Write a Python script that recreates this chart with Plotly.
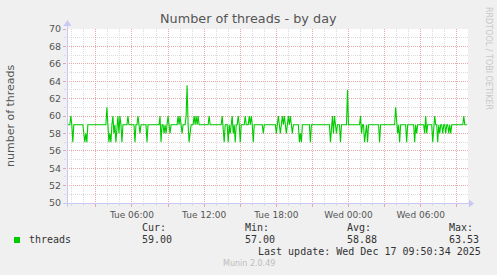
import plotly.graph_objects as go
import pandas as pd

# ---- data (5-minute samples, Tue 00:40 -> Wed 09:50) ----
start_time = "2025-12-16 00:40"
threads = [
    59, 59, 59, 60, 59, 57, 59, 59, 59, 59, 59, 59, 59, 59, 59, 59, 58, 57, 58, 57,
    59, 59, 59, 59, 59, 59, 59, 59, 59, 59, 59, 59, 59, 59, 59, 59, 59, 59, 59, 61,
    59, 57, 58, 57, 59, 60, 58, 59, 57, 59, 60, 58, 60, 59, 57, 59, 59, 59, 59, 59,
    60, 59, 59, 59, 59, 59, 59, 57, 59, 59, 60, 59, 58, 59, 59, 59, 59, 59, 59, 57,
    59, 59, 59, 59, 59, 59, 59, 59, 59, 59, 59, 59, 60, 57, 59, 59, 58, 59, 58, 59,
    60, 59, 58, 59, 59, 59, 59, 59, 59, 59, 60, 59, 60, 59, 58, 59, 59, 59, 60, 63.53,
    59, 57, 58, 59, 59, 59, 60, 59, 60, 59, 60, 59, 59, 59, 59, 59, 59, 59, 59, 59,
    59, 60, 59, 59, 59, 59, 59, 59, 59, 59, 59, 59, 59, 59, 60, 58, 57, 59, 59, 59,
    57, 59, 58, 59, 60, 58, 59, 57, 59, 59, 60, 59, 57, 59, 59, 59, 59, 60, 59, 59,
    59, 60, 59, 60, 59, 57, 59, 59, 59, 59, 59, 59, 59, 59, 59, 58, 59, 59, 59, 59,
    59, 59, 59, 59, 59, 59, 59, 59, 58, 59, 60, 59, 58, 59, 60, 59, 60, 59, 58, 59,
    60, 59, 60, 59, 58, 59, 59, 59, 59, 59, 59, 57, 58, 57, 59, 59, 59, 59, 59, 59,
    59, 59, 57, 59, 59, 59, 59, 59, 59, 59, 59, 59, 59, 59, 59, 59, 59, 59, 59, 59,
    59, 59, 57, 59, 60, 58, 60, 59, 58, 59, 59, 59, 57, 59, 59, 59, 59, 59, 59, 63,
    59, 59, 59, 59, 59, 59, 59, 59, 59, 59, 59, 59, 60, 58, 59, 59, 57, 58, 59, 57,
    59, 59, 59, 59, 59, 59, 59, 59, 59, 59, 59, 57, 59, 59, 59, 59, 59, 59, 59, 59,
    59, 59, 59, 59, 59, 59, 59, 61, 59, 58, 59, 57, 59, 59, 59, 59, 59, 59, 57, 59,
    59, 59, 59, 59, 59, 59, 57, 59, 58, 59, 59, 59, 59, 59, 59, 59, 58, 60, 58, 59,
    59, 59, 59, 59, 57, 59, 60, 59, 59, 57, 59, 58, 59, 59, 58, 59, 59, 58, 59, 59,
    58, 59, 58, 59, 59, 59, 59, 59, 59, 59, 59, 59, 59, 59, 59, 60, 59, 59, 59,
]
x_range = ["2025-12-16 00:36", "2025-12-17 09:56"]
tick_vals = [
    "2025-12-16 03:00", "2025-12-16 06:00", "2025-12-16 09:00", "2025-12-16 12:00",
    "2025-12-16 15:00", "2025-12-16 18:00", "2025-12-16 21:00", "2025-12-17 00:00",
    "2025-12-17 03:00", "2025-12-17 06:00", "2025-12-17 09:00",
]
tick_text = ["", "Tue 06:00", "", "Tue 12:00", "", "Tue 18:00", "",
             "Wed 00:00", "", "Wed 06:00", ""]
legend_name = "threads"
stat_labels = ["Cur:", "Min:", "Avg:", "Max:"]
stat_values = ["59.00", "57.00", "58.88", "63.53"]
title = "Number of threads - by day"
y_title = "number of threads"
last_update = "Last update: Wed Dec 17 09:50:34 2025"
footer = "Munin 2.0.49"
side_text = "RRDTOOL / TOBI OETIKER"

times = pd.date_range(start_time, periods=len(threads), freq="5min")

W, H = 497, 275
L, R, T, B = 67, 29, 29, 72
PW, PH = W - L - R, H - T - B


def px(x):
    return (x - L) / PW


def py(y):
    return (H - B - y) / PH


GREEN = "#00CC00"
MGRID = "#E6A8A8"
GRID = "#DCDCDC"
AXIS = "#C8C8F4"
TXT = "#555555"
MONO = "DejaVu Sans Mono"
SANS = "DejaVu Sans"

fig = go.Figure()
fig.add_trace(go.Scatter(x=times, y=threads, mode="lines",
                         line=dict(color=GREEN, width=1.1), showlegend=False,
                         hoverinfo="skip"))

fig.update_layout(
    width=W, height=H, autosize=False,
    margin=dict(l=L, r=R, t=T, b=B, pad=0),
    paper_bgcolor="#F0F0F0", plot_bgcolor="#FFFFFF",
    font=dict(family=SANS, color=TXT),
    xaxis=dict(
        range=x_range, type="date", tickmode="array",
        tickvals=tick_vals, ticktext=tick_text,
        showgrid=True, gridcolor=MGRID, griddash="1px,1px", gridwidth=1,
        ticks="outside", ticklen=3, tickcolor=MGRID,
        tickfont=dict(size=9, family=SANS, color=TXT),
        showline=False, zeroline=False,
        minor=dict(dtick=3600000, tick0="2025-12-16 00:00", showgrid=True,
                   gridcolor=GRID, griddash="1px,1px", gridwidth=1,
                   ticks="outside", ticklen=2, tickcolor=GRID),
    ),
    yaxis=dict(
        range=[50, 70], tickmode="linear", tick0=50, dtick=2,
        showgrid=True, gridcolor=MGRID, griddash="1px,1px", gridwidth=1,
        ticks="outside", ticklen=3, tickcolor=MGRID,
        tickfont=dict(size=9.5, family=SANS, color=TXT),
        showline=False, zeroline=False,
        minor=dict(dtick=1, showgrid=True, gridcolor=GRID,
                   griddash="1px,1px", gridwidth=1,
                   ticks="outside", ticklen=2, tickcolor=GRID),
    ),
)

# axis lines with arrows (decoration)
shapes = [
    dict(type="line", xref="paper", yref="paper", x0=px(63), x1=px(470),
         y0=py(203.5), y1=py(203.5), line=dict(color=AXIS, width=1)),
    dict(type="line", xref="paper", yref="paper", x0=px(67.5), x1=px(67.5),
         y0=py(207), y1=py(24), line=dict(color=AXIS, width=1)),
    dict(type="path", xref="paper", yref="paper",
         path=f"M {px(469)} {py(199.5)} L {px(474)} {py(203.5)} L {px(469)} {py(207.5)} Z",
         fillcolor=AXIS, line=dict(width=0)),
    dict(type="path", xref="paper", yref="paper",
         path=f"M {px(63.5)} {py(26)} L {px(67.5)} {py(20)} L {px(71.5)} {py(26)} Z",
         fillcolor=AXIS, line=dict(width=0)),
    dict(type="rect", xref="paper", yref="paper", x0=px(14), x1=px(20),
         y0=py(237), y1=py(243), fillcolor=GREEN, line=dict(width=0)),
]
fig.update_layout(shapes=shapes)

ann = []
ann.append(dict(text=title, x=px(248), y=py(19), xanchor="center", yanchor="middle",
                font=dict(size=12.8, family=SANS, color=TXT)))
ann.append(dict(text=y_title, x=px(10), y=py(116), textangle=-90,
                xanchor="center", yanchor="middle",
                font=dict(size=11, family=SANS, color=TXT)))
ann.append(dict(text=side_text, x=px(488.5), y=py(5), textangle=90,
                xanchor="center", yanchor="top",
                font=dict(size=8, family=SANS, color="#C8C8C8")))
ann.append(dict(text=legend_name, x=px(26.5), y=py(239.5), xanchor="left",
                yanchor="middle", font=dict(size=10, family=MONO, color="#333333")))
for lab, val, xx in zip(stat_labels, stat_values, [140, 242.5, 345, 447]):
    ann.append(dict(text=lab, x=px(xx), y=py(227.5), xanchor="left",
                    yanchor="middle", font=dict(size=10, family=MONO, color="#333333")))
    ann.append(dict(text=val, x=px(xx), y=py(239.5), xanchor="left",
                    yanchor="middle", font=dict(size=10, family=MONO, color="#333333")))
ann.append(dict(text=last_update, x=px(483), y=py(251.5), xanchor="right",
                yanchor="middle", font=dict(size=10, family=MONO, color="#333333")))
ann.append(dict(text=footer, x=px(248.5), y=py(263.5), xanchor="center",
                yanchor="middle", font=dict(size=8, family=SANS, color="#BDBDBD")))
for a in ann:
    a.update(xref="paper", yref="paper", showarrow=False)
fig.update_layout(annotations=ann)

fig.write_html("out.html")
